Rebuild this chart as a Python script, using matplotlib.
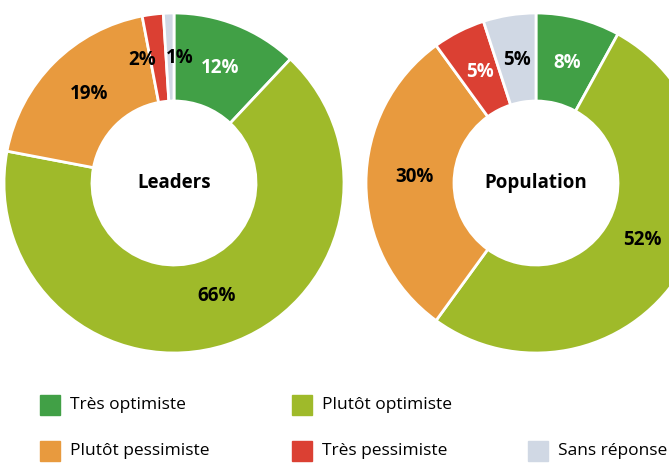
import matplotlib.pyplot as plt
from matplotlib.patches import Rectangle

# categories and values (percent)
categories = ['Très optimiste', 'Plutôt optimiste', 'Plutôt pessimiste',
              'Très pessimiste', 'Sans réponse']
colors = ['#41a046', '#9fba2a', '#e89a3e', '#db4033', '#d0d8e4']
leaders = [12, 66, 19, 2, 1]
population = [8, 52, 30, 5, 5]
# label colour per slice (white on dark slices)
leaders_txt = ['white', 'black', 'black', 'black', 'black']
population_txt = ['white', 'black', 'black', 'white', 'black']

plt.rcParams['font.family'] = ['Open Sans', 'DejaVu Sans']

W, H = 669, 463
fig = plt.figure(figsize=(W / 100, H / 100), dpi=100)
ax = fig.add_axes([0, 0, 1, 1])

R = 170
ring = 88


def donut(values, txt_colors, cx, cy, title, nudges):
    wedges, _, autotexts = ax.pie(
        values, colors=colors, radius=R, center=(cx, H - cy),
        startangle=90, counterclock=False,
        autopct=lambda p: f'{round(p)}%', pctdistance=0.73,
        wedgeprops=dict(width=ring, edgecolor='white', linewidth=2))
    for i, (t, c) in enumerate(zip(autotexts, txt_colors)):
        t.set_color(c)
        t.set_fontsize(13.5)
        t.set_fontweight('bold')
        dx, dy = nudges.get(i, (0, 0))
        x, y = t.get_position()
        t.set_position((x + dx, y + dy))
    ax.text(cx, H - cy, title, ha='center', va='center',
            fontsize=13.5, fontweight='bold')


# small label nudges (pixels) to keep thin slices readable
donut(leaders, leaders_txt, 174, 183, 'Leaders',
      {1: (4, 5), 2: (3, 1), 3: (-16, 0), 4: (10, 1)})
donut(population, population_txt, 536, 183, 'Population',
      {1: (2, 9), 2: (3, 6)})

ax.set_xlim(0, W)
ax.set_ylim(0, H)
ax.set_aspect('equal')
ax.axis('off')

# legend
legend_pos = [(40, 405), (292, 405), (40, 451), (292, 451), (528, 451)]
for (x, y), lab, col in zip(legend_pos, categories, colors):
    ax.add_patch(Rectangle((x, H - y - 10), 20, 20, color=col, clip_on=False))
    ax.text(x + 30, H - y, lab, ha='left', va='center', fontsize=12.5)

fig.savefig('out.png', dpi=100)
